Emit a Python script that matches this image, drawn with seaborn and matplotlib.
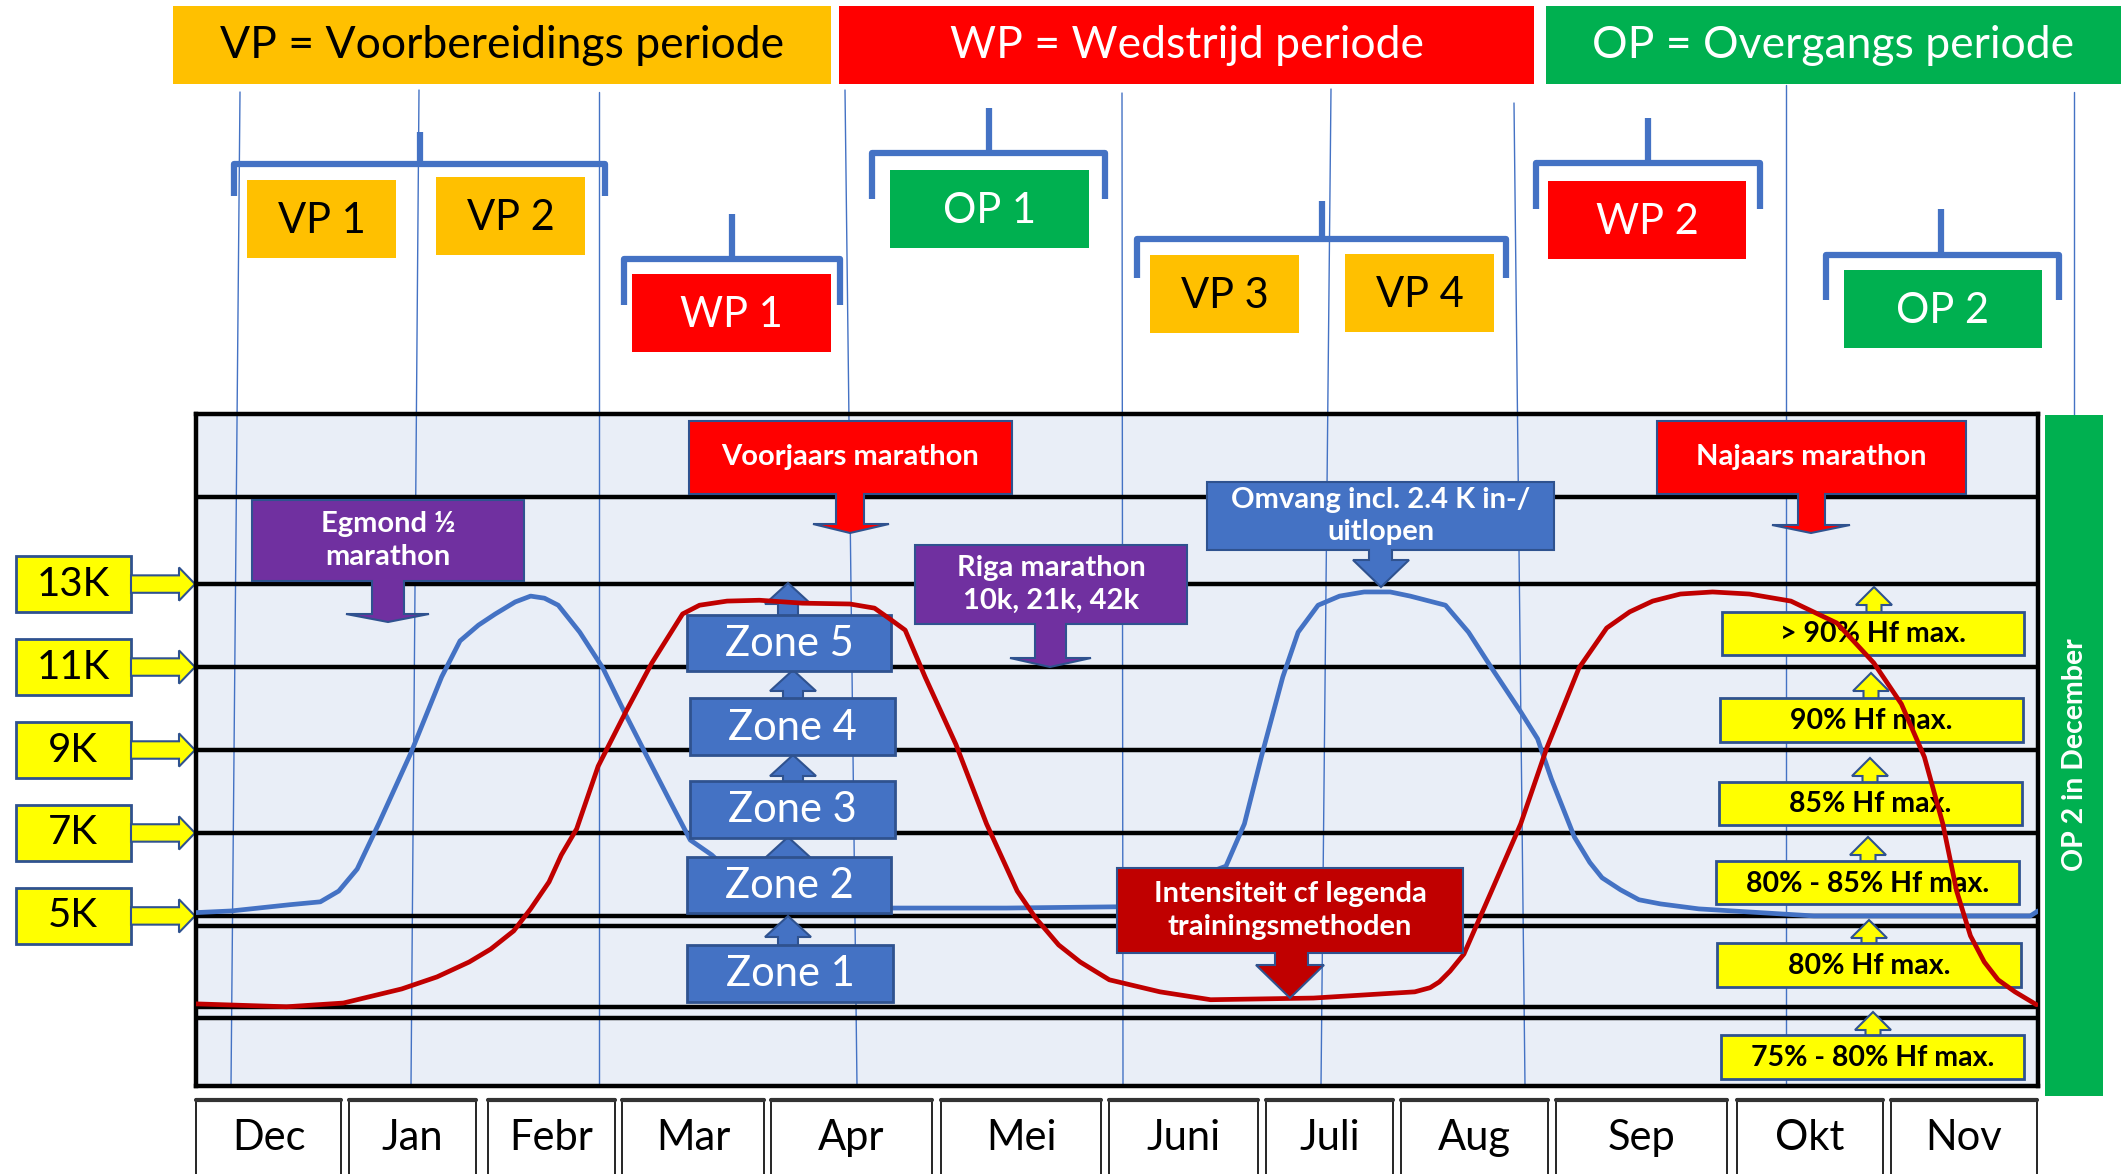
import matplotlib.pyplot as plt
import seaborn as sns
from matplotlib.patches import Rectangle, Polygon
from matplotlib.transforms import blended_transform_factory

sns.set_style("white")
plt.rcParams['font.family'] = ['Lato', 'DejaVu Sans']

# ---- data ----
months = ['Dec', 'Jan', 'Febr', 'Mar', 'Apr', 'Mei', 'Juni', 'Juli', 'Aug', 'Sep', 'Okt', 'Nov']
k_levels = [13, 11, 9, 7, 5]
k_labels = ['13K', '11K', '9K', '7K', '5K']

# omvang (blauw), x in maanden vanaf begin december, y in K
blue_month = [0.00, 0.23, 0.61, 0.81, 0.93, 1.05, 1.19, 1.40, 1.60, 1.72, 1.84, 1.95, 2.08, 2.18, 2.27,
              2.36, 2.50, 2.65, 2.79, 2.94, 3.09, 3.22, 3.36, 3.67, 3.93, 4.53, 5.28, 6.00, 6.71, 6.83,
              6.94, 7.08, 7.18, 7.31, 7.45, 7.61, 7.78, 7.91, 8.14, 8.29, 8.44, 8.63, 8.74, 8.83, 8.98,
              9.08, 9.16, 9.28, 9.40, 9.54, 9.79, 10.54, 11.95, 12.00]
blue_k = [5.08, 5.12, 5.27, 5.34, 5.60, 6.13, 7.22, 8.93, 10.76, 11.63, 12.01, 12.28, 12.57, 12.71, 12.66,
          12.49, 11.84, 10.98, 9.92, 8.83, 7.75, 6.83, 6.47, 5.39, 5.22, 5.19, 5.19, 5.22, 6.20, 7.22,
          8.83, 10.76, 11.84, 12.49, 12.71, 12.81, 12.81, 12.71, 12.49, 11.84, 10.98, 9.92, 9.27, 8.30, 6.90,
          6.29, 5.92, 5.63, 5.39, 5.29, 5.17, 5.00, 5.00, 5.12]

# intensiteit (rood)
red_month = [0.00, 0.59, 0.96, 1.34, 1.57, 1.78, 1.92, 2.07, 2.18, 2.30, 2.38, 2.48, 2.62, 2.80, 2.97,
             3.17, 3.28, 3.46, 3.67, 3.95, 4.26, 4.42, 4.52, 4.62, 4.75, 4.95, 5.15, 5.35, 5.47, 5.62,
             5.76, 5.95, 6.28, 6.61, 7.28, 7.94, 8.04, 8.10, 8.17, 8.26, 8.44, 8.63, 8.80, 9.01, 9.19,
             9.34, 9.49, 9.67, 9.88, 10.12, 10.39, 10.69, 10.93, 11.11, 11.26, 11.38, 11.47, 11.56, 11.65,
             11.74, 11.85, 11.99]
red_level = [2.88, 2.81, 2.90, 3.24, 3.53, 3.89, 4.20, 4.64, 5.17, 5.82, 6.47, 7.10, 8.61, 9.92, 11.10,
             12.28, 12.49, 12.59, 12.61, 12.54, 12.52, 12.42, 12.16, 11.89, 10.76, 9.14, 7.22, 5.60, 4.95, 4.30,
             3.89, 3.46, 3.17, 2.98, 3.02, 3.17, 3.27, 3.41, 3.67, 4.08, 5.60, 7.22, 9.05, 10.98, 11.94,
             12.33, 12.59, 12.76, 12.81, 12.76, 12.59, 12.06, 11.10, 10.11, 8.83, 7.22, 5.60, 4.52, 3.89,
             3.46, 3.17, 2.86]

zones = ['Zone 5', 'Zone 4', 'Zone 3', 'Zone 2', 'Zone 1']
hf_labels = ['> 90% Hf max.', '90% Hf max.', '85% Hf max.', '80% - 85% Hf max.', '80% Hf max.',
             '75% - 80% Hf max.']
periods = ['VP = Voorbereidings periode', 'WP = Wedstrijd periode', 'OP = Overgangs periode']
sub_periods = ['VP 1', 'VP 2', 'WP 1', 'OP 1', 'VP 3', 'VP 4', 'WP 2', 'OP 2']

# kleuren
GOLD, RED, GREEN = '#FFC000', '#FF0000', '#00B050'
BLUE, EDGE, PURPLE, DRED, YEL = '#4472C4', '#2F528F', '#7030A0', '#C00000', '#FFFF00'

# ---- layout (pixels) ----
month_x0 = [196, 349, 488, 622, 771, 941, 1109, 1266, 1401, 1556, 1737, 1891]
month_x1 = [341, 476, 615, 764, 932, 1101, 1258, 1393, 1548, 1727, 1883, 2037]
row_edges = [15.1, 4.75, 2.8, 2.55]

fig = plt.figure(figsize=(21.21, 11.74), dpi=100)
ax = fig.add_axes([0, 0, 1, 1])
ax.set_xlim(0, 2121)
ax.set_ylim(1174, 0)
ax.axis('off')

ax2 = fig.add_axes([196 / 2121, (1174 - 1086) / 1174, 1842 / 2121, 672 / 1174])
ax2.set_facecolor('none')
P = ax.transData


def rect(a, x0, y0, x1, y1, fc, ec='none', lw=1.5, z=2):
    a.add_patch(Rectangle((x0, y0), x1 - x0, y1 - y0, fc=fc, ec=ec, lw=lw, transform=P,
                          clip_on=False, zorder=z))


def txt(a, x, y, s, size, color, weight='normal', z=10, **kw):
    a.text(x, y, s, transform=P, ha='center', va='center', fontsize=size, color=color,
           fontweight=weight, zorder=z, clip_on=False, **kw)


def up_arrow(cx, tip, base, hw, sw, hh, fc, z):
    pts = [(cx, tip), (cx + hw, tip + hh), (cx + sw, tip + hh), (cx + sw, base),
           (cx - sw, base), (cx - sw, tip + hh), (cx - hw, tip + hh)]
    ax2.add_patch(Polygon(pts, closed=True, fc=fc, ec=EDGE, lw=1.5, transform=P,
                          clip_on=False, zorder=z))


def callout(box, shaft, head, tip, fc, text, fs=21):
    x0, y0, x1, y1 = box
    sx0, sx1 = shaft
    hy, hx0, hx1 = head
    pts = [(x0, y0), (x1, y0), (x1, y1), (sx1, y1), (sx1, hy), (hx1, hy), tip,
           (hx0, hy), (sx0, hy), (sx0, y1), (x0, y1)]
    ax2.add_patch(Polygon(pts, closed=True, fc=fc, ec=EDGE, lw=1.5, transform=P,
                          clip_on=False, zorder=8))
    txt(ax2, (x0 + x1) / 2, (y0 + y1) / 2, text, fs, 'white', 'bold', z=9, linespacing=1.3)


# periode banners
banner_x = [(173, 831, GOLD, 'black'), (839, 1534, RED, 'white'), (1546, 2121, GREEN, 'white')]
for (x0, x1, fc, tc), lab in zip(banner_x, periods):
    rect(ax, x0, 6, x1, 84, fc)
    txt(ax, (x0 + x1) / 2, 45, lab, 32, tc)

# haken boven de sub-periodes: (x0, x1, balk y, poot y, stam x, stam top)
brackets = [(234, 605, 164, 196, 420, 132), (624, 840, 259, 305, 732, 214),
            (872, 1105, 153, 199, 989, 108), (1137, 1506, 239, 278, 1322, 201),
            (1536, 1760, 163, 209, 1648, 118), (1826, 2059, 255, 300, 1941, 209)]
for x0, x1, yb, yl, xs, ys in brackets:
    ax.plot([x0, x0, x1, x1], [yl, yb, yb, yl], color=BLUE, lw=4.5, solid_capstyle='butt', zorder=3)
    ax.plot([xs, xs], [ys, yb], color=BLUE, lw=4.5, solid_capstyle='butt', zorder=3)

sub_boxes = [(247, 180, 396, 258, GOLD, 'black'), (436, 177, 585, 255, GOLD, 'black'),
             (632, 274, 831, 352, RED, 'white'), (890, 170, 1089, 248, GREEN, 'white'),
             (1150, 255, 1299, 333, GOLD, 'black'), (1345, 254, 1494, 332, GOLD, 'black'),
             (1548, 181, 1746, 259, RED, 'white'), (1844, 270, 2042, 348, GREEN, 'white')]
for (x0, y0, x1, y1, fc, tc), lab in zip(sub_boxes, sub_periods):
    rect(ax, x0, y0, x1, y1, fc, z=4)
    txt(ax, (x0 + x1) / 2, (y0 + y1) / 2 + 2, lab, 30, tc)

# grafiekvlak
rect(ax, 196, 414, 2038, 1086, '#E9EEF7', z=0)
vlines = [(240, 92, 231), (419, 90, 411), (599, 92, 599), (845, 90, 857), (1122, 93, 1123),
          (1331, 89, 1321), (1514, 103, 1525), (1786, 85, 1786)]
for xt, yt, xb in vlines:
    ax.plot([xt, xb], [yt, 1086], color=BLUE, lw=1.0, zorder=1)
ax.plot([2074, 2074], [92, 415], color=BLUE, lw=1.0, zorder=1)

# horizontale lijnen en omvang-lijnen
for lvl in k_levels + row_edges:
    ax2.axhline(lvl, color='black', lw=3.2, zorder=2)

sns.lineplot(x=blue_month, y=blue_k, ax=ax2, color=BLUE, linewidth=3.4, zorder=3,
             estimator=None, sort=False)
sns.lineplot(x=red_month, y=red_level, ax=ax2, color=DRED, linewidth=3.4, zorder=7,
             estimator=None, sort=False)
for ln in ax2.get_lines():
    ln.set_solid_joinstyle('round')
    ln.set_solid_capstyle('round')
ax2.set_xlim(0, 12)
ax2.set_ylim(0.9, 17.1)
ax2.set(xlabel='', ylabel='', xticks=[], yticks=[])
for sp in ax2.spines.values():
    sp.set_color('black')
    sp.set_linewidth(3.2)

# K labels links met pijlen
B = blended_transform_factory(ax.transData, ax2.transData)
for lvl, lab in zip(k_levels, k_labels):
    ax.add_patch(Rectangle((16, lvl - 0.67), 115, 1.34, fc=YEL, ec=EDGE, lw=2, transform=B, zorder=4))
    ax.text(73, lvl, lab, transform=B, ha='center', va='center', fontsize=29, color='black', zorder=5)
    pts = [(131, lvl + 0.21), (179, lvl + 0.21), (179, lvl + 0.40), (195, lvl),
           (179, lvl - 0.40), (179, lvl - 0.21), (131, lvl - 0.21)]
    ax.add_patch(Polygon(pts, closed=True, fc=YEL, ec=EDGE, lw=1.5, transform=B, zorder=4))

# zones met pijlen omhoog
zone_boxes = [(687, 615, 891, 671), (690, 698, 895, 755), (690, 781, 895, 838),
              (687, 857, 891, 913), (687, 945, 893, 1002)]
zone_tips = [(788, 583), (793, 670), (793, 755), (788, 837), (788, 916)]
for (x0, y0, x1, y1), (cx, tp), lab in zip(zone_boxes, zone_tips, zones):
    up_arrow(cx, tp, y0 + 4, 23, 10, 21, BLUE, 4)
    rect(ax2, x0, y0, x1, y1, BLUE, EDGE, 2, z=5)
    txt(ax2, (x0 + x1) / 2, (y0 + y1) / 2 + 1, lab, 30, 'white', z=6)

# hartslag zones rechts
hf_boxes = [(1722, 612, 2024, 655), (1720, 698, 2023, 742), (1719, 782, 2022, 825),
            (1716, 861, 2019, 904), (1717, 943, 2021, 987), (1721, 1035, 2024, 1079)]
hf_tips = [(1874, 587), (1871, 673), (1870, 758), (1868, 837), (1869, 920), (1873, 1012)]
for (x0, y0, x1, y1), (cx, tp), lab in zip(hf_boxes, hf_tips, hf_labels):
    up_arrow(cx, tp, y0 + 4, 18, 7.5, 18, YEL, 4)
    rect(ax2, x0, y0, x1, y1, YEL, EDGE, 2, z=5)
    txt(ax2, (x0 + x1) / 2, (y0 + y1) / 2 + 1, lab, 20.5, 'black', 'bold', z=6)

# callouts
callout((689, 421, 1012, 494), (836, 864), (524, 813, 889), (850, 533), RED, 'Voorjaars marathon')
callout((252, 500, 524, 581), (372, 404), (614, 346, 429), (388, 622), PURPLE, 'Egmond ½\nmarathon')
callout((915, 545, 1187, 624), (1035, 1066), (658, 1010, 1091), (1050, 667), PURPLE,
        'Riga marathon\n10k, 21k, 42k')
callout((1207, 482, 1554, 550), (1369, 1392), (560, 1353, 1409), (1381, 587), BLUE,
        'Omvang incl. 2.4 K in-/\nuitlopen')
callout((1657, 421, 1966, 494), (1798, 1825), (525, 1772, 1850), (1811, 533), RED, 'Najaars marathon')
callout((1117, 868, 1463, 953), (1275, 1308), (965, 1256, 1324), (1290, 998), DRED,
        'Intensiteit cf legenda\ntrainingsmethoden')

# groene balk rechts
rect(ax, 2045, 415, 2103, 1096, GREEN, z=3)
txt(ax, 2075, 755, 'OP 2 in December', 20.5, 'white', 'bold', rotation=90)

# maanden
for x0, x1, m in zip(month_x0, month_x1, months):
    rect(ax, x0, 1099, x1, 1180, 'white', 'black', 1.2, z=3)
    ax.plot([x0, x1], [1100, 1100], color='#333333', lw=3, zorder=4)
    txt(ax, (x0 + x1) / 2, 1138, m, 30, 'black')

fig.savefig('out.png', dpi=100)
